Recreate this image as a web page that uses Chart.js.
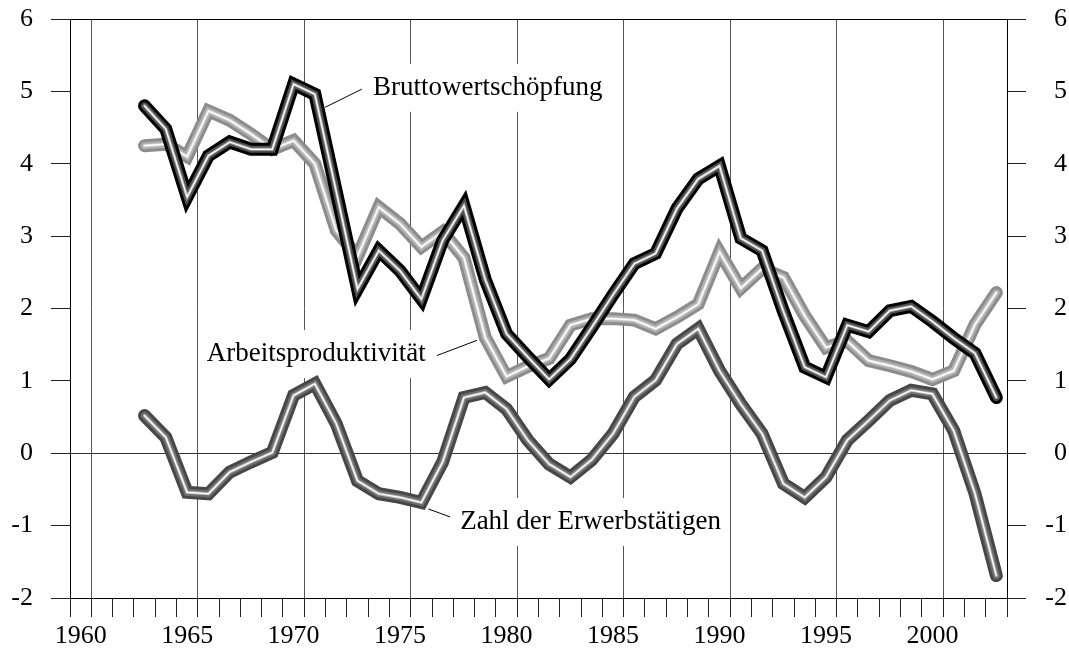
<!DOCTYPE html>
<html lang="de">
<head>
<meta charset="UTF-8">
<title>Bruttowertschöpfung, Arbeitsproduktivität und Erwerbstätige</title>
<script src="https://cdn.jsdelivr.net/npm/chart.js@4.4.0/dist/chart.umd.min.js"></script>
<style>
  html, body { margin: 0; padding: 0; background: #fff; }
  .chart-box { position: relative; width: 1069px; height: 654px; }
</style>
</head>
<body>
<div class="chart-box"><canvas id="wachstum"></canvas></div>
<script>
// Jahre (Kategorien) und Veränderungsraten in %
const years = [1960, 1961, 1962, 1963, 1964, 1965, 1966, 1967, 1968, 1969,
               1970, 1971, 1972, 1973, 1974, 1975, 1976, 1977, 1978, 1979,
               1980, 1981, 1982, 1983, 1984, 1985, 1986, 1987, 1988, 1989,
               1990, 1991, 1992, 1993, 1994, 1995, 1996, 1997, 1998, 1999,
               2000, 2001, 2002, 2003];

const bruttowertschoepfung = [null, null, null, 4.80, 4.48, 3.54, 4.11, 4.30, 4.20, 4.20,
                              5.10, 4.96, 3.62, 2.27, 2.80, 2.52, 2.13, 2.94, 3.42, 2.40,
                              1.65, 1.33, 1.02, 1.30, 1.74, 2.19, 2.62, 2.76, 3.38, 3.79,
                              3.97, 2.97, 2.80, 1.96, 1.19, 1.05, 1.77, 1.68, 1.97, 2.03,
                              1.82, 1.59, 1.38, 0.77];

const arbeitsproduktivitaet = [null, null, null, 4.25, 4.27, 4.10, 4.73, 4.60, 4.41, 4.20,
                               4.32, 4.00, 3.08, 2.72, 3.40, 3.17, 2.85, 3.06, 2.70, 1.60,
                               1.06, 1.20, 1.31, 1.77, 1.86, 1.86, 1.84, 1.72, 1.88, 2.06,
                               2.78, 2.28, 2.55, 2.43, 1.90, 1.46, 1.55, 1.28, 1.21, 1.13,
                               1.02, 1.14, 1.78, 2.22];

const erwerbstaetige = [null, null, null, 0.52, 0.22, -0.54, -0.56, -0.26, -0.12, 0.01,
                        0.80, 0.96, 0.41, -0.38, -0.56, -0.61, -0.68, -0.12, 0.77, 0.84,
                        0.61, 0.18, -0.15, -0.33, -0.09, 0.27, 0.78, 1.01, 1.51, 1.72,
                        1.14, 0.68, 0.27, -0.42, -0.61, -0.33, 0.18, 0.45, 0.73, 0.87,
                        0.82, 0.31, -0.56, -1.69];

const yMin = -2, yMax = 6;

// Beschriftungen direkt im Diagramm (Jahr/Wert-Koordinaten)
const notes = [
  { text: 'Bruttowertschöpfung', year: 1973.73, value: 5.05, from: [1971.48, 4.78], to: [1973.2, 5.03] },
  { text: 'Arbeitsproduktivität', year: 1965.92, value: 1.37, from: [1976.73, 1.35], to: [1978.61, 1.56] },
  { text: 'Zahl der Erwerbstätigen', year: 1977.82, value: -0.95, from: [1976.33, -0.77], to: [1977.35, -0.88] }
];

const serif = '"Liberation Serif", "Times New Roman", serif';
Chart.defaults.font.family = serif;
Chart.defaults.font.size = 26;
Chart.defaults.color = '#000';

// "Röhren"-Optik: mehrere Linien übereinander, aussen dunkel, innen hell
const widths = [13, 7, 3, 1.2];
function tube(label, data, colors, baseOrder) {
  return colors.map((c, i) => ({
    label: label,
    data: data,
    borderColor: c,
    borderWidth: widths[i],
    borderCapStyle: 'round',
    borderJoinStyle: 'miter',
    pointRadius: 0,
    tension: 0,
    fill: false,
    order: baseOrder + (colors.length - 1 - i)
  }));
}

const notePlugin = {
  id: 'notes',
  beforeDatasetsDraw(chart) {
    const { ctx, scales: { x, y } } = chart;
    const px = yr => x.getPixelForValue(yr - years[0]);
    ctx.save();
    ctx.font = '27px ' + serif;
    ctx.textBaseline = 'middle';
    notes.forEach(n => {
      const tx = px(n.year);
      const ty = y.getPixelForValue(n.value);
      const w = ctx.measureText(n.text).width;
      ctx.fillStyle = '#fff';
      ctx.fillRect(tx - 6, ty - 24, w + 12, 48);
      ctx.fillStyle = '#000';
      ctx.fillText(n.text, tx, ty);
      ctx.strokeStyle = '#000';
      ctx.lineWidth = 1;
      ctx.beginPath();
      ctx.moveTo(px(n.from[0]), y.getPixelForValue(n.from[1]));
      ctx.lineTo(px(n.to[0]), y.getPixelForValue(n.to[1]));
      ctx.stroke();
    });
    ctx.restore();
  }
};

// feste Achsenbreiten, ohne Zusatzabstand oben/unten durch die Beschriftung
function fixY(width) {
  return s => {
    s.width = width;
    s.paddingTop = 0;
    s.paddingBottom = 0;
  };
}

new Chart(document.getElementById('wachstum'), {
  type: 'line',
  data: {
    labels: years,
    datasets: [
      ...tube('Bruttowertschöpfung', bruttowertschoepfung, ['#000000', '#505050', '#a8a8a8', '#ffffff'], 0),
      ...tube('Arbeitsproduktivität', arbeitsproduktivitaet, ['#8c8c8c', '#b0b0b0', '#dcdcdc', '#ffffff'], 4),
      ...tube('Zahl der Erwerbstätigen', erwerbstaetige, ['#474747', '#6e6e6e', '#b8b8b8', '#ffffff'], 8)
    ]
  },
  options: {
    responsive: true,
    maintainAspectRatio: false,
    animation: false,
    layout: { padding: { top: 19, right: 2, bottom: 0, left: 0 } },
    plugins: {
      legend: { display: false },
      tooltip: { enabled: false }
    },
    scales: {
      x: {
        type: 'category',
        offset: true,
        grid: {
          offset: true,
          lineWidth: 1,
          color: ctx => (ctx.index > 0 && years[ctx.index - 1] % 5 === 0) ? '#555' : 'rgba(0,0,0,0)',
          tickColor: '#222',
          tickLength: 19
        },
        border: { color: '#000', width: 1 },
        ticks: {
          autoSkip: false,
          maxRotation: 0,
          padding: 4,
          callback: (v, i) => years[i] % 5 === 0 ? String(years[i]) : ''
        },
        afterFit: s => { s.height = 56; }
      },
      y: {
        position: 'left',
        min: yMin,
        max: yMax,
        ticks: { stepSize: 1, padding: 18 },
        grid: {
          color: ctx => {
            if (!ctx.tick) return 'rgba(0,0,0,0)';
            if (ctx.tick.value === 0) return '#333';
            if (ctx.tick.value === yMax) return '#000';
            return 'rgba(0,0,0,0)';
          },
          tickColor: '#222',
          tickLength: 19
        },
        border: { color: '#000', width: 1 },
        afterFit: fixY(70)
      },
      y2: {
        position: 'right',
        min: yMin,
        max: yMax,
        ticks: { stepSize: 1, padding: 19, crossAlign: 'far' },
        grid: { drawOnChartArea: false, tickColor: '#222', tickLength: 19 },
        border: { color: '#000', width: 1 },
        afterFit: fixY(60)
      }
    }
  },
  plugins: [notePlugin]
});
</script>
</body>
</html>
